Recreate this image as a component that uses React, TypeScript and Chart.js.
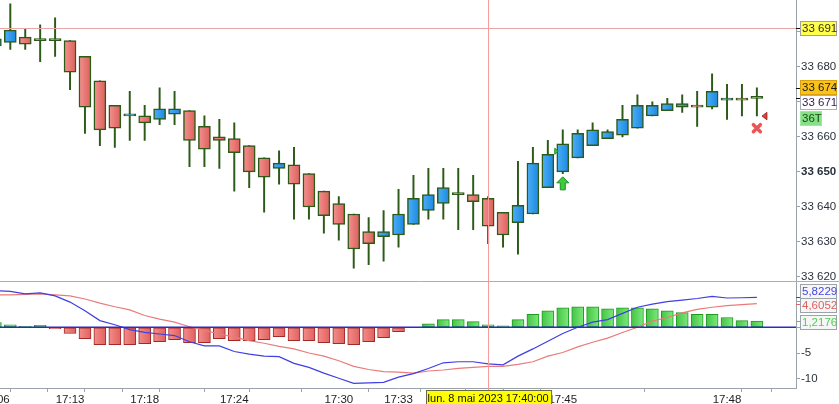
import { useEffect, useRef } from 'react';
import { Chart, registerables } from 'chart.js';

Chart.register(...registerables);

// first candle is the half-hidden one on the left edge
const firstIndex = -1;

const opens = [
  33686, 33687, 33688.5, 33687.5, 33687.5, 33687.5, 33683, 33676, 33669, 33666, 33666, 33665, 33666.5,
  33667.5, 33663, 33660, 33659.5, 33657.5, 33654, 33651, 33652, 33649.5, 33644.5, 33641, 33638, 33633,
  33631.5, 33632, 33635, 33639, 33641, 33643.5, 33643.5, 33642.5, 33638.5, 33635.5, 33638, 33645.5,
  33650, 33654, 33657.5, 33659.5, 33660.5, 33662.5, 33666, 33667.5, 33668.5, 33669, 33668.5, 33670.5,
  33671, 33671,
];
const highs = [
  33689, 33698, 33691, 33692, 33694, 33687.5, 33683, 33676, 33669, 33673, 33669, 33674, 33673, 33667.5,
  33666, 33665, 33664, 33657.5, 33654, 33656, 33657, 33649.5, 33644.5, 33643, 33638, 33637, 33639,
  33645, 33649, 33651, 33651, 33651, 33649, 33643, 33638.5, 33653, 33657, 33659, 33662, 33662, 33664,
  33662, 33669, 33672, 33670, 33671, 33672, 33673, 33678, 33675, 33675, 33674,
];
const lows = [
  33685, 33685, 33685, 33681.5, 33683, 33673.5, 33661, 33657.5, 33657, 33659, 33659, 33663.5, 33663.5,
  33651.5, 33651.5, 33651, 33644.5, 33645.5, 33638.5, 33646.5, 33636.5, 33636.5, 33632.5, 33630.5,
  33622.5, 33623.5, 33624.5, 33628.5, 33635, 33636.5, 33636.5, 33633.5, 33633.5, 33629.5, 33628.5,
  33626.5, 33638, 33645.5, 33649.5, 33654, 33657.5, 33659.5, 33660, 33662.5, 33666, 33667.5, 33667,
  33663, 33668, 33665, 33666, 33666,
];
const closes = [
  33688, 33690.5, 33686.5, 33687.5, 33687.5, 33678.5, 33668.5, 33662, 33662.5, 33666, 33664, 33668,
  33668, 33659, 33656.5, 33659, 33655.5, 33650, 33648.5, 33652.5, 33646.5, 33640, 33637.5, 33635,
  33628, 33629.5, 33633, 33638, 33642.5, 33643.5, 33645.5, 33643.5, 33641.5, 33634.5, 33632, 33640.5,
  33652.5, 33655, 33658, 33661, 33662, 33661.5, 33665, 33669, 33669, 33669.5, 33669.5, 33668.5, 33673,
  33670.5, 33670.5, 33671,
];

const histogram = [
  0.9, 0.5, 0.2, 0.4, -0.25, -1.2, -2.2, -3.4, -3.4, -3.4, -3.2, -2.8, -2.4, -3.0, -3.0, -2.2, -2.6,
  -2.6, -2.4, -1.8, -2.6, -2.6, -3.0, -3.2, -3.4, -2.8, -2.0, -0.85, 0, 0.7, 1.5, 1.5, 1.1, 0.5, 0.3,
  1.5, 2.5, 3.2, 3.8, 4.0, 4.0, 3.6, 3.8, 3.8, 3.6, 3.2, 2.85, 2.5, 2.5, 1.9, 1.3, 1.2176,
];
const macdLine = [
  7.1, 7.0, 6.5, 6.7, 6.1, 4.9, 3.2, 1.3, 0.5, -0.45, -1.0, -1.3, -1.6, -2.8, -3.6, -3.6, -4.7, -5.2,
  -5.6, -5.7, -7.0, -7.8, -8.9, -9.9, -10.9, -10.8, -10.7, -9.7, -9.0, -8.0, -6.9, -6.7, -6.7, -7.1,
  -7.3, -5.6, -4.2, -2.7, -1.2, 0, 1.0, 1.5, 2.7, 3.9, 4.5, 5.0, 5.3, 5.6, 6.0, 5.7, 5.75, 5.8229,
];
const signalLine = [
  6.3, 6.3, 6.4, 6.5, 6.3, 6.1, 5.5, 4.7, 4.0, 3.4, 2.3, 1.6, 1.0, 0.1, -0.6, -1.3, -1.9, -2.6, -3.1,
  -3.7, -4.2, -5.0, -5.6, -6.5, -7.6, -8.2, -8.6, -8.7, -8.9, -8.5, -8.3, -8.0, -7.8, -7.6, -7.6, -7.2,
  -6.7, -5.6, -4.9, -3.8, -2.9, -2.1, -1.0, 0, 1.2, 1.9, 2.8, 3.5, 3.9, 4.2, 4.4, 4.6052,
];

const priceTicks = [33620, 33630, 33640, 33650, 33660, 33670, 33680, 33690, 33700];
const priceTickLabels = ['33 620', '33 630', '33 640', '33 650', '33 660', '33 670', '33 680', '33 690', '33 700'];
const macdTicks = [-10, -5, 0, 5];
const macdTickLabels = ['-10', '-5', '0', '5'];

const timeTickIndex = [-1, 1, 4, 6, 9, 11, 15, 17, 22, 26, 29, 32, 34, 37, 48, 50];
const timeTickLabels = ['17:06', '', '17:13', '', '17:18', '', '17:24', '', '17:30', '17:33', '', '17:40', '', '17:45', '17:48', ''];

// price levels / signals shown on the chart
const levelPrice = 33691;
const highTag = 33674;
const lastPrice = 33671;
const barSizeTag = '36T';
const buyArrow = [37, 33648.6];
const buyFlag = [37, 33655.9];
const exitCross = [50, 33662.5];
const exitFlag = [50, 33665.9];
const cursorIndex = 32;
const cursorLabel = 'lun. 8 mai 2023 17:40:00';

const FONT = "'Liberation Sans', Arial, sans-serif";
const EDGE = '#2c5a17';

const idx = opens.map((_, k) => k + firstIndex);

function hGradient(c: any, left: string, right: string, fallback: string) {
  const chart = c.chart;
  const xs = chart.scales?.x;
  if (c.type !== 'data' || !xs) return fallback;
  const px = xs.getPixelForValue(idx[c.dataIndex]);
  if (!Number.isFinite(px)) return fallback;
  const g = chart.ctx.createLinearGradient(px - 6, 0, px + 6, 0);
  g.addColorStop(0, left);
  g.addColorStop(1, right);
  return g;
}

function tag(ctx: CanvasRenderingContext2D, text: string, yc: number, fill: string, stroke: string, color: string, w = 36) {
  const x0 = 800.5;
  const h = 14;
  ctx.fillStyle = fill;
  ctx.fillRect(x0, Math.round(yc - h / 2) + 0.5, w, h);
  if (stroke) {
    ctx.strokeStyle = stroke;
    ctx.lineWidth = 1;
    ctx.strokeRect(x0, Math.round(yc - h / 2) + 0.5, w, h);
  }
  ctx.fillStyle = color;
  ctx.font = `11.5px ${FONT}`;
  ctx.textAlign = 'left';
  ctx.textBaseline = 'middle';
  ctx.fillText(text, x0 + 1.5, Math.round(yc) + 1);
}

function axisMark(ctx: CanvasRenderingContext2D, y: number, color: string) {
  ctx.strokeStyle = color;
  ctx.lineWidth = 1;
  ctx.beginPath();
  ctx.moveTo(796, Math.round(y) + 0.5);
  ctx.lineTo(801, Math.round(y) + 0.5);
  ctx.stroke();
}

function priceText(v: number) {
  const i = priceTicks.indexOf(v);
  if (i >= 0) return priceTickLabels[i];
  const t = String(Math.round(v));
  return `${t.slice(0, 2)} ${t.slice(2)}`;
}

function noPadding(s: any) {
  s.paddingLeft = 0;
  s.paddingRight = 0;
  s.paddingTop = 0;
  s.paddingBottom = 0;
}

const overlay = {
  id: 'overlay',
  afterDatasetsDraw(chart: any) {
    const { ctx, chartArea } = chart;
    const { x, y, y2 } = chart.scales;
    ctx.save();

    // level line
    const ly = Math.round(y.getPixelForValue(levelPrice)) + 0.5;
    ctx.strokeStyle = '#e9a6a6';
    ctx.lineWidth = 1;
    ctx.beginPath();
    ctx.moveTo(chartArea.left, ly);
    ctx.lineTo(chartArea.right, ly);
    ctx.stroke();

    // macd zero line
    const zy = y2.getPixelForValue(0);
    ctx.strokeStyle = '#2b2bc8';
    ctx.lineWidth = 1.5;
    ctx.beginPath();
    ctx.moveTo(chartArea.left, zy);
    ctx.lineTo(chartArea.right, zy);
    ctx.stroke();

    // buy arrow
    const ax = x.getPixelForValue(buyArrow[0]);
    const ay = y.getPixelForValue(buyArrow[1]);
    ctx.fillStyle = '#3ccc3c';
    ctx.strokeStyle = '#1f8f1f';
    ctx.lineWidth = 1;
    ctx.beginPath();
    ctx.moveTo(ax, ay);
    ctx.lineTo(ax + 6, ay + 6);
    ctx.lineTo(ax + 2.5, ay + 6);
    ctx.lineTo(ax + 2.5, ay + 13);
    ctx.lineTo(ax - 2.5, ay + 13);
    ctx.lineTo(ax - 2.5, ay + 6);
    ctx.lineTo(ax - 6, ay + 6);
    ctx.closePath();
    ctx.fill();
    ctx.stroke();

    // small entry flag
    const fx = x.getPixelForValue(buyFlag[0]) - 7;
    const fy = y.getPixelForValue(buyFlag[1]);
    ctx.beginPath();
    ctx.moveTo(fx - 1, fy - 3);
    ctx.lineTo(fx + 2.5, fy);
    ctx.lineTo(fx - 1, fy + 3);
    ctx.closePath();
    ctx.fill();
    ctx.stroke();

    // exit cross
    const cx = x.getPixelForValue(exitCross[0]);
    const cy = y.getPixelForValue(exitCross[1]);
    ctx.strokeStyle = '#ea5656';
    ctx.lineWidth = 3.5;
    ctx.lineCap = 'round';
    ctx.beginPath();
    ctx.moveTo(cx - 3.5, cy - 3.5);
    ctx.lineTo(cx + 3.5, cy + 3.5);
    ctx.moveTo(cx + 3.5, cy - 3.5);
    ctx.lineTo(cx - 3.5, cy + 3.5);
    ctx.stroke();

    // exit flag
    const ex = x.getPixelForValue(exitFlag[0]) + 8;
    const ey = y.getPixelForValue(exitFlag[1]);
    ctx.fillStyle = '#e23b3b';
    ctx.strokeStyle = '#a51d1d';
    ctx.lineWidth = 1;
    ctx.beginPath();
    ctx.moveTo(ex + 2, ey - 3.5);
    ctx.lineTo(ex + 2, ey + 3.5);
    ctx.lineTo(ex - 2.5, ey);
    ctx.closePath();
    ctx.fill();
    ctx.stroke();

    // cursor
    const kx = Math.round(x.getPixelForValue(cursorIndex)) + 0.5;
    ctx.strokeStyle = '#f59b9b';
    ctx.lineWidth = 1;
    ctx.beginPath();
    ctx.moveTo(kx, 0);
    ctx.lineTo(kx, chartArea.bottom + 2);
    ctx.stroke();

    ctx.restore();
  },
  afterDraw(chart: any) {
    const { ctx, chartArea } = chart;
    const { x, y, y2 } = chart.scales;
    ctx.save();

    // pane separator
    ctx.strokeStyle = '#a7afb7';
    ctx.lineWidth = 1;
    ctx.beginPath();
    ctx.moveTo(0, Math.round(y2.top) + 0.5);
    ctx.lineTo(chart.width, Math.round(y2.top) + 0.5);
    ctx.stroke();

    // price tags
    axisMark(ctx, y.getPixelForValue(levelPrice), '#111');
    tag(ctx, priceText(levelPrice), y.getPixelForValue(levelPrice), '#ffff4d', '#a0a0a0', '#3a2a10');
    axisMark(ctx, y.getPixelForValue(highTag), '#111');
    tag(ctx, priceText(highTag), y.getPixelForValue(highTag) - 1, '#fbc21a', '#d9a010', '#1a1a1a');
    axisMark(ctx, y.getPixelForValue(lastPrice), '#111');
    const lp = y.getPixelForValue(lastPrice);
    tag(ctx, priceText(lastPrice), lp + 4, '#ffffff', '#a8b0b8', '#3a2050');
    tag(ctx, barSizeTag, lp + 20, '#86e086', '#9fe89f', '#174a17', 21);

    // macd tags
    const m = macdLine[macdLine.length - 1];
    const s = signalLine[signalLine.length - 1];
    const h = histogram[histogram.length - 1];
    axisMark(ctx, y2.getPixelForValue(m), '#3b3be0');
    axisMark(ctx, y2.getPixelForValue(s), '#e06464');
    axisMark(ctx, y2.getPixelForValue(h), '#4ccc4c');
    tag(ctx, m.toFixed(4).replace('.', ','), 290.5, '#f6f6f6', '#9aa2aa', '#4646e6');
    tag(ctx, s.toFixed(4).replace('.', ','), 305, '#f6f6f6', '#9aa2aa', '#e05f5f');
    tag(ctx, h.toFixed(4).replace('.', ','), 322, '#f6f6f6', '#9aa2aa', '#4fd04f');

    // cursor date box
    const kx = x.getPixelForValue(cursorIndex);
    ctx.font = `11px ${FONT}`;
    const tw = ctx.measureText(cursorLabel).width + 4;
    ctx.fillStyle = '#ffff00';
    ctx.fillRect(Math.round(kx - tw / 2) + 0.5, chartArea.bottom + 2.5, tw, 16);
    ctx.strokeStyle = '#6a6a40';
    ctx.strokeRect(Math.round(kx - tw / 2) + 0.5, chartArea.bottom + 2.5, tw, 16);
    ctx.fillStyle = '#111';
    ctx.textAlign = 'center';
    ctx.textBaseline = 'middle';
    ctx.fillText(cursorLabel, kx, chartArea.bottom + 10.5);

    ctx.restore();
  },
};

export default function App() {
  const canvasRef = useRef<HTMLCanvasElement>(null);
  const chartRef = useRef<Chart | null>(null);

  useEffect(() => {
    document.body.style.margin = '0';
    const ctx = canvasRef.current?.getContext('2d');
    if (!ctx) return;
    if (chartRef.current) chartRef.current.destroy();

    chartRef.current = new Chart(ctx, {
      type: 'bar',
      data: {
        datasets: [
          {
            label: 'body',
            order: 1,
            yAxisID: 'y',
            data: idx.map((i, k) => ({ x: i, y: [opens[k], closes[k]] })) as any,
            barThickness: 12,
            minBarLength: 2,
            grouped: false,
            borderSkipped: false,
            borderWidth: 1.5,
            borderColor: EDGE,
            backgroundColor: (c: any) =>
              closes[c.dataIndex] >= opens[c.dataIndex]
                ? hGradient(c, '#4bb0f8', '#1d87e0', '#2f9af0')
                : hGradient(c, '#f4928f', '#db5f5b', '#e77471'),
          },
          {
            label: 'wick',
            order: 2,
            yAxisID: 'y',
            data: idx.map((i, k) => ({ x: i, y: [lows[k], highs[k]] })) as any,
            barThickness: 1.3,
            grouped: false,
            borderWidth: 0,
            backgroundColor: EDGE,
          },
          {
            label: 'hist',
            order: 3,
            yAxisID: 'y2',
            data: idx.map((i, k) => ({ x: i, y: histogram[k] })) as any,
            barThickness: 12,
            grouped: false,
            borderSkipped: false,
            borderWidth: 1,
            borderColor: (c: any) => (histogram[c.dataIndex] >= 0 ? '#1f9a1f' : '#a32828'),
            backgroundColor: (c: any) =>
              histogram[c.dataIndex] >= 0
                ? hGradient(c, '#43c543', '#7de87d', '#5cd65c')
                : hGradient(c, '#f28d8a', '#e0625f', '#e87774'),
          },
          {
            type: 'line',
            label: 'MACD',
            order: 0,
            yAxisID: 'y2',
            data: idx.map((i, k) => ({ x: i, y: macdLine[k] })) as any,
            borderColor: '#3f3fe4',
            borderWidth: 1.2,
            pointRadius: 0,
            tension: 0,
          },
          {
            type: 'line',
            label: 'Signal',
            order: 0,
            yAxisID: 'y2',
            data: idx.map((i, k) => ({ x: i, y: signalLine[k] })) as any,
            borderColor: '#ea7b7b',
            borderWidth: 1.2,
            pointRadius: 0,
            tension: 0,
          },
        ],
      },
      options: {
        responsive: true,
        maintainAspectRatio: false,
        animation: false,
        layout: { padding: 0 },
        plugins: {
          legend: { display: false },
          tooltip: { enabled: false },
        },
        scales: {
          x: {
            type: 'linear',
            offset: false,
            min: -0.69,
            max: 52.62,
            afterBuildTicks: (s: any) => {
              s.ticks = timeTickIndex.map((v) => ({ value: v }));
            },
            afterFit: (s: any) => {
              s.height = 16;
              noPadding(s);
            },
            ticks: {
              autoSkip: false,
              maxRotation: 0,
              padding: 1,
              color: '#1e1e1e',
              font: { family: FONT, size: 11.5 },
              callback: (_v: any, i: number) => timeTickLabels[i],
            },
            grid: { drawOnChartArea: false, tickLength: 4, color: '#9aa3ab' },
            border: { color: '#9aa3ab' },
          },
          y: {
            type: 'linear',
            position: 'right',
            stack: 'panes',
            stackWeight: 280.5,
            min: 33619,
            max: 33699.1,
            afterBuildTicks: (s: any) => {
              s.ticks = priceTicks.map((v) => ({ value: v }));
            },
            afterFit: (s: any) => {
              s.width = 43;
              noPadding(s);
            },
            ticks: {
              padding: 1,
              color: '#28323c',
              font: (c: any) => ({
                family: FONT,
                size: 11.5,
                weight: c.tick && c.tick.value === 33650 ? 'bold' : 'normal',
              }),
              callback: (_v: any, i: number) => priceTickLabels[i],
            },
            grid: { drawOnChartArea: false, tickLength: 4, color: '#9aa3ab' },
            border: { color: '#9aa3ab' },
          },
          y2: {
            type: 'linear',
            position: 'right',
            stack: 'panes',
            stackWeight: 107.5,
            min: -11.8,
            max: 9.1,
            afterBuildTicks: (s: any) => {
              s.ticks = macdTicks.map((v) => ({ value: v }));
            },
            afterFit: (s: any) => {
              s.width = 43;
              noPadding(s);
            },
            ticks: {
              padding: 1,
              color: '#28323c',
              font: { family: FONT, size: 11.5 },
              callback: (_v: any, i: number) => macdTickLabels[i],
            },
            grid: { drawOnChartArea: false, tickLength: 4, color: '#9aa3ab' },
            border: { color: '#9aa3ab' },
          },
        },
      },
      plugins: [overlay],
    });

    return () => {
      if (chartRef.current) {
        chartRef.current.destroy();
        chartRef.current = null;
      }
    };
  }, []);

  return (
    <div style={{ width: 839, height: 404, position: 'relative', background: '#ffffff' }}>
      <canvas ref={canvasRef} />
    </div>
  );
}
